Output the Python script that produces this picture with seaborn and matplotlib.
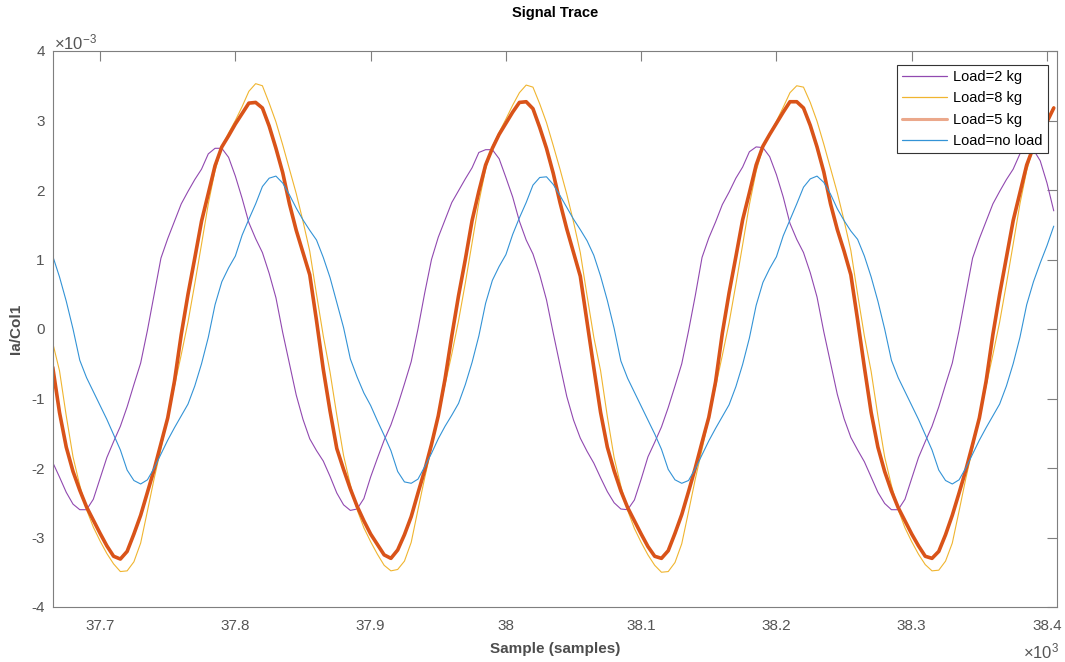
import numpy as np
import pandas as pd
import matplotlib
matplotlib.use("Agg")
import matplotlib.pyplot as plt
import seaborn as sns
from matplotlib.ticker import FuncFormatter
from matplotlib.lines import Line2D

# ---------------- data (values in units of 1e-3, samples every 5 starting at 37665) ----------------
START_SAMPLE = 37665
SAMPLE_STEP = 5

labels = ["Load=2 kg", "Load=8 kg", "Load=5 kg", "Load=no load"]

load2 = [
    -1.92, -2.13, -2.35, -2.52, -2.6, -2.6, -2.45, -2.15, -1.85, -1.62, -1.4, -1.12, -0.8, -0.49, -0.02, 0.5, 1.02, 1.3, 1.55, 1.8,
    1.98, 2.15, 2.3, 2.52, 2.6, 2.6, 2.47, 2.2, 1.88, 1.53, 1.3, 1.1, 0.8, 0.45, -0.05, -0.5, -0.95, -1.3, -1.58, -1.75,
    -1.9, -2.12, -2.36, -2.53, -2.61, -2.59, -2.44, -2.13, -1.86, -1.6, -1.38, -1.1, -0.79, -0.47, 0.0, 0.52, 1.0, 1.32, 1.57, 1.82,
    1.99, 2.16, 2.32, 2.54, 2.58, 2.58, 2.45, 2.18, 1.9, 1.55, 1.28, 1.08, 0.78, 0.42, -0.06, -0.52, -0.97, -1.31, -1.57, -1.76,
    -1.93, -2.14, -2.34, -2.5, -2.59, -2.6, -2.46, -2.16, -1.84, -1.63, -1.41, -1.13, -0.82, -0.5, -0.03, 0.48, 1.03, 1.31, 1.54, 1.79,
    1.97, 2.17, 2.33, 2.55, 2.62, 2.61, 2.48, 2.22, 1.9, 1.52, 1.29, 1.1, 0.81, 0.46, -0.04, -0.49, -0.94, -1.29, -1.56, -1.74,
    -1.91, -2.13, -2.35, -2.51, -2.6, -2.6, -2.45, -2.15, -1.85, -1.62, -1.4, -1.12, -0.8, -0.49, -0.02, 0.5, 1.02, 1.3, 1.55, 1.8,
    1.98, 2.15, 2.3, 2.52, 2.6, 2.58, 2.42, 2.1, 1.7,
]

load8 = [
    -0.2, -0.6, -1.25, -1.84, -2.25, -2.6, -2.85, -3.05, -3.23, -3.38, -3.49, -3.48, -3.35, -3.08, -2.62, -2.15, -1.72, -1.27, -0.82, -0.37,
    0.1, 0.65, 1.22, 1.8, 2.28, 2.62, 2.82, 3.0, 3.2, 3.42, 3.53, 3.5, 3.25, 2.98, 2.65, 2.3, 1.95, 1.55, 1.12, 0.5,
    -0.1, -0.62, -1.24, -1.82, -2.24, -2.6, -2.86, -3.06, -3.24, -3.4, -3.48, -3.46, -3.34, -3.07, -2.6, -2.14, -1.7, -1.26, -0.8, -0.36,
    0.12, 0.66, 1.24, 1.82, 2.3, 2.63, 2.83, 3.02, 3.22, 3.4, 3.51, 3.48, 3.24, 2.97, 2.64, 2.3, 1.94, 1.54, 1.1, 0.48,
    -0.12, -0.6, -1.26, -1.85, -2.26, -2.61, -2.87, -3.07, -3.25, -3.4, -3.5, -3.49, -3.36, -3.09, -2.63, -2.16, -1.73, -1.28, -0.83, -0.38,
    0.09, 0.64, 1.21, 1.79, 2.27, 2.61, 2.81, 2.99, 3.19, 3.4, 3.5, 3.48, 3.26, 2.99, 2.66, 2.31, 1.96, 1.56, 1.13, 0.5,
    -0.1, -0.61, -1.25, -1.84, -2.25, -2.6, -2.86, -3.06, -3.24, -3.39, -3.48, -3.47, -3.34, -3.08, -2.62, -2.15, -1.72, -1.27, -0.82, -0.37,
    0.1, 0.65, 1.22, 1.8, 2.28, 2.62, 2.82, 3.0, 3.2,
]

load5 = [
    -0.55, -1.2, -1.7, -2.05, -2.32, -2.56, -2.75, -2.94, -3.12, -3.27, -3.31, -3.2, -2.95, -2.68, -2.35, -2.02, -1.65, -1.28, -0.75, -0.08,
    0.5, 1.02, 1.55, 1.95, 2.35, 2.62, 2.78, 2.95, 3.1, 3.25, 3.26, 3.18, 2.92, 2.6, 2.25, 1.8, 1.42, 1.1, 0.78, 0.12,
    -0.58, -1.18, -1.72, -2.02, -2.3, -2.55, -2.76, -2.95, -3.1, -3.25, -3.3, -3.18, -2.96, -2.7, -2.36, -2.03, -1.66, -1.25, -0.72, -0.1,
    0.48, 1.0, 1.56, 1.98, 2.36, 2.6, 2.8, 2.96, 3.12, 3.26, 3.27, 3.17, 2.9, 2.6, 2.24, 1.82, 1.44, 1.1, 0.76, 0.1,
    -0.56, -1.2, -1.7, -2.04, -2.33, -2.57, -2.76, -2.95, -3.13, -3.27, -3.3, -3.19, -2.94, -2.67, -2.34, -2.0, -1.63, -1.27, -0.76, -0.06,
    0.52, 1.04, 1.57, 1.96, 2.36, 2.63, 2.8, 2.96, 3.12, 3.27, 3.27, 3.18, 2.93, 2.62, 2.26, 1.8, 1.43, 1.12, 0.78, 0.13,
    -0.55, -1.2, -1.7, -2.05, -2.33, -2.57, -2.76, -2.95, -3.12, -3.27, -3.3, -3.2, -2.96, -2.68, -2.36, -2.03, -1.66, -1.28, -0.75, -0.08,
    0.5, 1.03, 1.56, 1.96, 2.36, 2.62, 2.8, 2.98, 3.18,
]

noload = [
    1.05, 0.75, 0.4, 0.0, -0.45, -0.7, -0.9, -1.1, -1.3, -1.52, -1.74, -2.03, -2.18, -2.23, -2.17, -2.0, -1.8, -1.6, -1.42, -1.25,
    -1.08, -0.82, -0.5, -0.12, 0.35, 0.68, 0.88, 1.05, 1.35, 1.58, 1.8, 2.05, 2.17, 2.2, 2.1, 1.93, 1.74, 1.57, 1.42, 1.28,
    1.03, 0.74, 0.38, 0.02, -0.43, -0.69, -0.92, -1.1, -1.32, -1.53, -1.75, -2.05, -2.2, -2.22, -2.16, -1.98, -1.79, -1.58, -1.4, -1.24,
    -1.07, -0.8, -0.48, -0.1, 0.37, 0.7, 0.9, 1.07, 1.36, 1.6, 1.82, 2.07, 2.18, 2.19, 2.08, 1.92, 1.75, 1.58, 1.43, 1.27,
    1.06, 0.76, 0.41, 0.01, -0.46, -0.71, -0.91, -1.11, -1.31, -1.51, -1.73, -2.02, -2.17, -2.22, -2.18, -2.01, -1.81, -1.61, -1.43, -1.26,
    -1.09, -0.83, -0.51, -0.13, 0.34, 0.67, 0.87, 1.04, 1.34, 1.57, 1.8, 2.04, 2.16, 2.2, 2.11, 1.94, 1.73, 1.56, 1.41, 1.29,
    1.05, 0.75, 0.4, 0.0, -0.45, -0.7, -0.9, -1.1, -1.3, -1.52, -1.74, -2.03, -2.18, -2.23, -2.17, -2.0, -1.8, -1.6, -1.42, -1.25,
    -1.08, -0.82, -0.5, -0.12, 0.35, 0.68, 0.95, 1.2, 1.48,
]

x_ticks = [37700, 37800, 37900, 38000, 38100, 38200, 38300, 38400]
y_ticks = [-4, -3, -2, -1, 0, 1, 2, 3, 4]

# ---------------- styling ----------------
colors = {
    "Load=2 kg": "#9149B0",
    "Load=8 kg": "#F0B530",
    "Load=5 kg": "#D95319",
    "Load=no load": "#3393D6",
}
widths = {"Load=2 kg": 0.8, "Load=8 kg": 0.8, "Load=5 kg": 2.6, "Load=no load": 0.8}

frames = []
for lab, vals in zip(labels, [load2, load8, load5, noload]):
    frames.append(pd.DataFrame({
        "Sample": START_SAMPLE + SAMPLE_STEP * np.arange(len(vals)),
        "Value": np.array(vals) * 1e-3,
        "Load": lab,
    }))
df = pd.concat(frames, ignore_index=True)

sns.set_theme(style="white")
plt.rcParams["font.family"] = ["Liberation Sans", "DejaVu Sans"]
plt.rcParams["mathtext.fontset"] = "custom"
plt.rcParams["mathtext.rm"] = "Liberation Sans"
plt.rcParams["mathtext.it"] = "Liberation Sans"

W, H = 1065, 662
fig = plt.figure(figsize=(W / 100, H / 100), dpi=100)
L, R, T, B = 53, 1057, 51, 607
ax = fig.add_axes([L / W, 1 - B / H, (R - L) / W, (B - T) / H])

for lab in labels:
    sns.lineplot(data=df[df["Load"] == lab], x="Sample", y="Value", color=colors[lab],
                 linewidth=widths[lab], ax=ax, estimator=None, sort=False, legend=False)

ax.set_xlim(37665.2, 38407.4)
ax.set_ylim(-4e-3, 4e-3)
ax.set_xticks(x_ticks)
ax.set_yticks([v * 1e-3 for v in y_ticks])
ax.xaxis.set_major_formatter(FuncFormatter(lambda v, _: f"{round(v / 1000, 3):g}"))
ax.yaxis.set_major_formatter(FuncFormatter(lambda v, _: f"{round(v * 1000, 3):g}"))

tick_col = "#555555"
ax.tick_params(axis="both", direction="in", length=7, width=0.8, top=True, right=True,
               colors="#7f7f7f", labelcolor=tick_col, labelsize=11)
ax.tick_params(axis="x", pad=9)
ax.tick_params(axis="y", pad=6)
for sp in ax.spines.values():
    sp.set_color("#7f7f7f")
    sp.set_linewidth(0.8)

ax.set_xlabel("Sample (samples)", fontsize=11, fontweight="bold", color="#4d4d4d", labelpad=6)
ax.set_ylabel("Ia/Col1", fontsize=11, fontweight="bold", color="#4d4d4d")
ax.yaxis.label.set_va("center")
ax.yaxis.set_label_coords((16 - L) / (R - L), 0.5)

fig.text(((L + R) / 2) / W, 1 - 13 / H, "Signal Trace", ha="center", va="center",
         fontsize=10.5, fontweight="bold", color="black")
fig.text(54 / W, 1 - 42 / H, r"$\times$10$^{-3}$", ha="left", va="center", fontsize=12, color=tick_col)
fig.text(1059 / W, 1 - 651 / H, r"$\times$10$^{3}$", ha="right", va="center", fontsize=12, color=tick_col)

handles = []
for lab in labels:
    if lab == "Load=5 kg":
        handles.append(Line2D([0], [0], color=colors[lab], lw=2.2, alpha=0.5))
    else:
        handles.append(Line2D([0], [0], color=colors[lab], lw=0.9))
leg = ax.legend(handles, labels, loc="upper right", bbox_to_anchor=(1048 / W, 1 - 65 / H),
                bbox_transform=fig.transFigure, fontsize=10.5, frameon=True, fancybox=False,
                edgecolor="#333333", framealpha=1, handlelength=3.1, handletextpad=0.45,
                labelspacing=0.5, borderpad=0.35, borderaxespad=0)
leg.get_frame().set_linewidth(0.8)
for t in leg.get_texts():
    t.set_color("black")

fig.savefig("out.png", dpi=100)
